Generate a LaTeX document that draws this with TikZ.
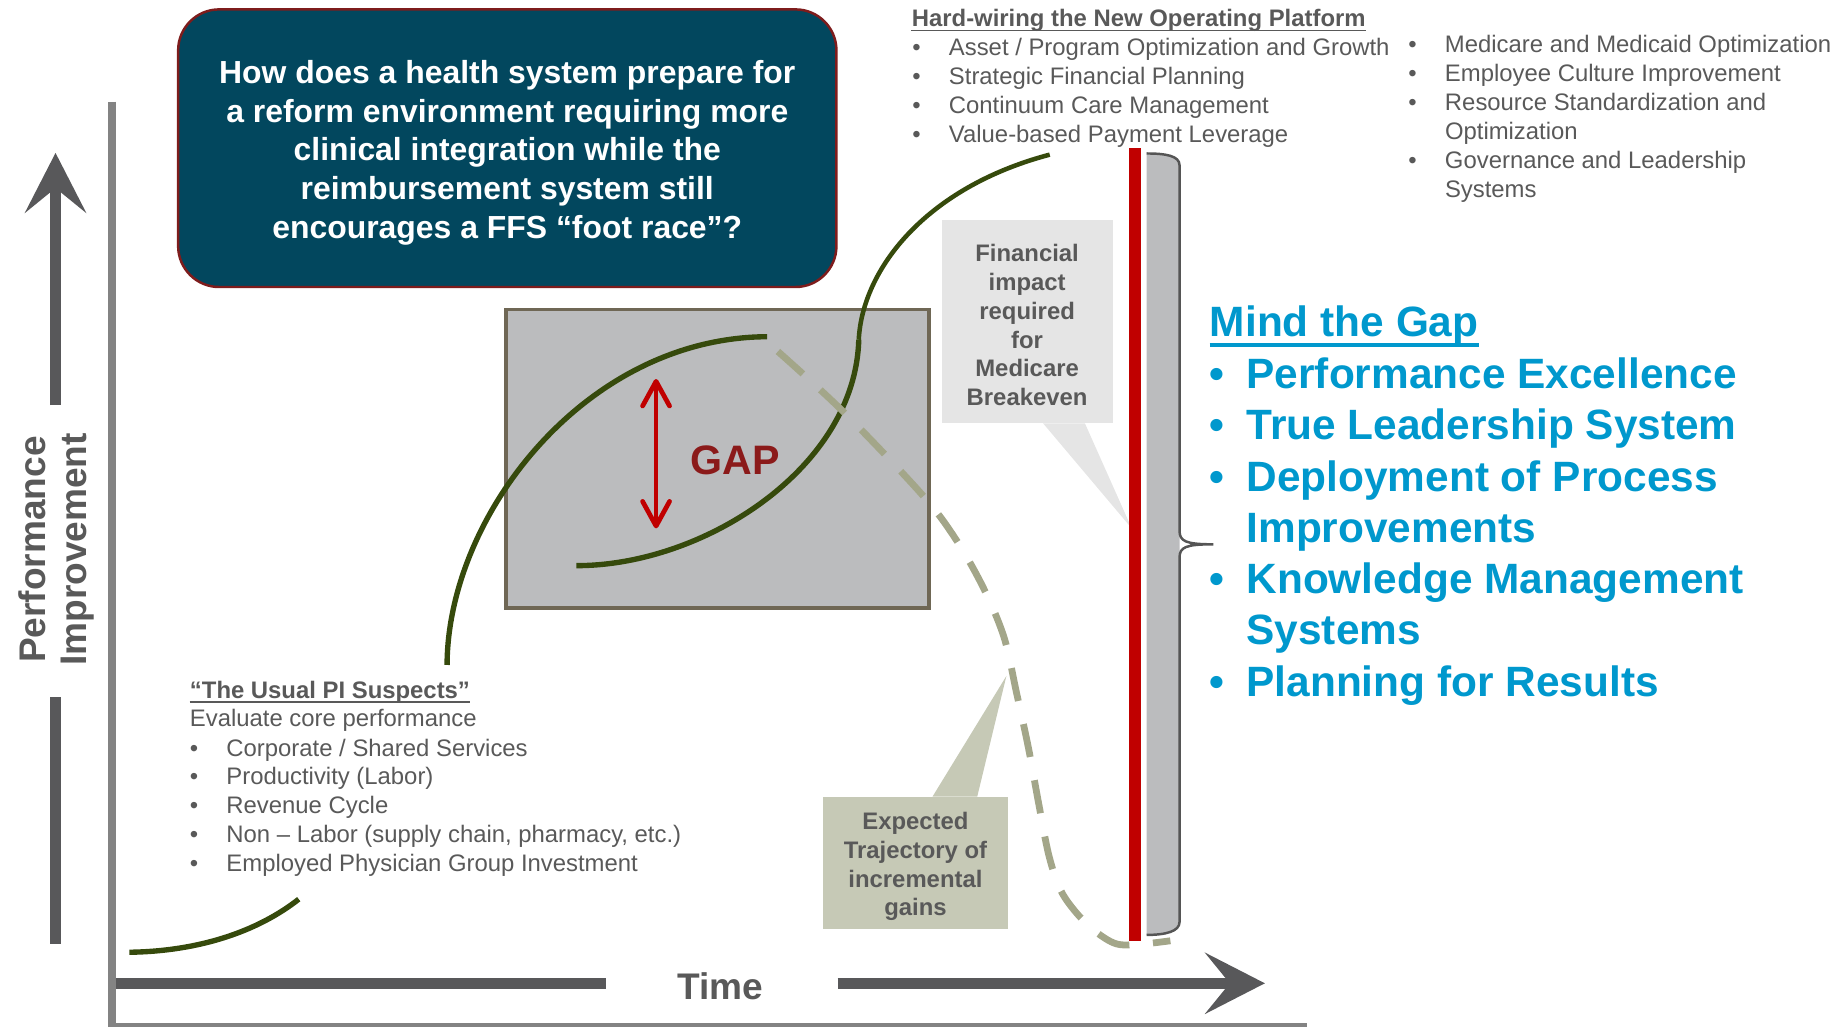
\documentclass[tikz,border=0pt]{standalone}
\usepackage{fontspec}
\setmainfont{Liberation Sans}
\usetikzlibrary{arrows.meta}

\definecolor{boxteal}{HTML}{02475E}
\definecolor{boxred}{HTML}{7E1C1C}
\definecolor{txtgray}{HTML}{595959}
\definecolor{axisgray}{HTML}{838383}
\definecolor{arrgray}{HTML}{58585A}
\definecolor{gapfill}{HTML}{BBBCBE}
\definecolor{gapedge}{HTML}{6F6755}
\definecolor{curvegreen}{HTML}{364A0C}
\definecolor{dashgreen}{HTML}{A3A689}
\definecolor{barred}{HTML}{C00000}
\definecolor{gapred}{HTML}{8B1A1A}
\definecolor{mindblue}{HTML}{0098CD}
\definecolor{calloutA}{HTML}{E5E5E5}
\definecolor{calloutB}{HTML}{C6C9B6}
\definecolor{bracegray}{HTML}{555555}

\newcommand{\bul}{\makebox[0.625cm][l]{\textbullet}}
\newcommand{\nobul}{\makebox[0.625cm][l]{}}

\tikzset{
  axisline/.style={draw=axisgray, line width=3.7pt},
  bigarrow/.style={draw=arrgray, line width=5.4pt},
  bigtip/.style={>={Stealth[length=1.02cm,width=1.04cm,inset=0.42cm]}, ->},
  gcurve/.style={draw=curvegreen, line width=2.6pt},
  dcurve/.style={draw=dashgreen, line width=3.3pt, dash pattern=on 16.3pt off 11.5pt},
  gaparrow/.style={draw=barred, line width=2.3pt, >={Straight Barb[length=0.42cm,width=0.46cm,round]}, <->},
  qbox/.style={minimum width=11.24cm, minimum height=4.74cm, rounded corners=0.7cm, fill=boxteal, draw=boxred, line width=1.2pt, inner sep=0pt},
  qtext/.style={align=center, text=white, font=\bfseries\fontsize{15.5}{18.8}\selectfont, inner sep=0pt},
  gapbox/.style={minimum width=7.22cm, minimum height=5.1cm, fill=gapfill, draw=gapedge, line width=1.7pt, inner sep=0pt},
  pitext/.style={inner sep=0pt, anchor=base west, text=txtgray, font=\fontsize{11.6}{14}\selectfont},
  pihead/.style={pitext, font=\bfseries\fontsize{11.6}{14}\selectfont},
  mindtext/.style={inner sep=0pt, anchor=base west, text=mindblue, font=\bfseries\fontsize{20.6}{25}\selectfont},
  ulgray/.style={draw=txtgray, line width=0.8pt},
  callout/.style={inner sep=0pt, align=center, text=txtgray, font=\bfseries\fontsize{11.6}{14}\selectfont},
  bracedraw/.style={draw=bracegray, line width=1.2pt},
}

\begin{document}
\begin{tikzpicture}[x=0.02cm, y=-0.02cm]
\useasboundingbox (0,0) rectangle (1568,876);

% axes
\coordinate (ytop) at (95.6,86.8);
\coordinate (origin) at (95.6,876.2);
\coordinate (xend) at (1116,876.2);
\draw[axisline] (ytop) -- (origin) -- (xend);

% performance arrow
\coordinate (pbot) at (47.4,805.7);
\coordinate (plow) at (47.4,595.2);
\coordinate (phigh) at (47.4,345.7);
\coordinate (ptop) at (47.4,130.5);
\draw[bigarrow] (pbot) -- (plow);
\draw[bigarrow, bigtip] (phigh) -- (ptop);
\node[rotate=90, align=center, text=txtgray, font=\bfseries\fontsize{18}{20}\selectfont] (perf) at (48,469) {Performance\\Improvement};

% time arrow
\coordinate (tstart) at (99,839.3);
\coordinate (tleft) at (517,839.3);
\coordinate (tright) at (715,839.3);
\coordinate (tend) at (1079.7,839.3);
\draw[bigarrow] (tstart) -- (tleft);
\draw[bigarrow, bigtip] (tright) -- (tend);
\node[text=txtgray, font=\bfseries\fontsize{18}{20}\selectfont] (time) at (614.9,842) {Time};

% question
\node[qbox] (qbox) at (433,126.5) {};
\node[qtext] (qtext) at (433,130.4) {How does a health system prepare for\\a reform environment requiring more\\clinical integration while the\\reimbursement system still\\encourages a FFS “foot race”?};

% gap box and curves
\node[gapbox] (gapbox) at (612.5,391.5) {};
\draw[gcurve] (110.4,812.8) .. controls (170,812) and (220,795) .. (255,767.5);
\draw[gcurve] (381.6,567.6) .. controls (382,440) and (500,288) .. (654.8,287.4);
\draw[gcurve] (492,482.8) .. controls (600,483) and (730,400) .. (733,290);
\draw[gcurve, line width=2.2pt] (733,290) .. controls (736,230) and (790,160) .. (896,132);
\draw[dcurve] plot[smooth, tension=0.55] coordinates {(664,300) (719.8,351.4) (786,421) (815,459) (839,501) (857,544) (867.7,591.5) (877.9,638.7) (886.6,686) (895.7,731.8) (907,763) (928,789) (951,805) (972,806) (999,803)};

\coordinate (gtop) at (560,323.5);
\coordinate (gbot) at (560,451);
\draw[gaparrow] (gtop) -- (gbot);
\node[text=gapred, font=\bfseries\fontsize{20}{24}\selectfont] (gap) at (627.4,392.6) {GAP};

% callouts
\node[fill=calloutA, minimum width=2.92cm, minimum height=3.464cm, inner sep=0pt] (finbox) at (876.7,274.4) {};
\coordinate (fintip) at (966,451);
\fill[calloutA] ([xshift=1.74cm]finbox.south west) -- (fintip) -- ([xshift=2.454cm]finbox.south west) -- cycle;
\node[callout] (fin) at (876.7,277.5) {Financial\\impact\\required\\for\\Medicare\\Breakeven};

\node[fill=calloutB, minimum width=3.144cm, minimum height=2.252cm, inner sep=0pt] (expbox) at (781.4,736.6) {};
\coordinate (exptip) at (859,577);
\fill[calloutB] ([xshift=1.87cm]expbox.north west) -- (exptip) -- ([xshift=2.634cm]expbox.north west) -- cycle;
\node[callout] (exp) at (781.4,739.6) {Expected\\Trajectory of\\incremental\\gains};

% red bar and brace
\fill[barred] (963.6,126.6) rectangle (973.9,803);
\fill[gapfill] (978.7,131) .. controls (995,131) and (1006.8,133) .. (1006.8,141) -- (1006.8,787) .. controls (1006.8,795) and (995,798) .. (978.7,798) -- cycle;
\draw[bracedraw] (978.7,131) .. controls (995,131) and (1006.8,133) .. (1006.8,141) -- (1006.8,453)
  .. controls (1006.8,462) and (1012,464.6) .. (1035.6,464.6)
  .. controls (1012,464.6) and (1006.8,467) .. (1006.8,476) -- (1006.8,787)
  .. controls (1006.8,795) and (995,798) .. (978.7,798);

% hard-wiring list
\node[pihead] (hw) at (778,22.8) {Hard-wiring the New Operating Platform};
\draw[ulgray] ([yshift=-1.9pt]hw.base west) -- ([yshift=-1.9pt]hw.base east);
\foreach \txt [count=\i] in {Asset / Program Optimization and Growth, Strategic Financial Planning, Continuum Care Management, Value-based Payment Leverage}
  \node[pitext] (hw\i) at (778.4,22.8+24.8*\i) {\bul\txt};

\foreach \txt [count=\i] in {{\bul Medicare and Medicaid Optimization}, {\bul Employee Culture Improvement}, {\bul Resource Standardization and}, {\nobul Optimization}, {\bul Governance and Leadership}, {\nobul Systems}}
  \node[pitext] (mc\i) at (1201.8,20.2+24.8*\i) {\txt};

% usual suspects
\node[pihead] (ups) at (161.8,596) {“The Usual PI Suspects”};
\draw[ulgray] ([yshift=-1.9pt]ups.base west) -- ([yshift=-1.9pt]ups.base east);
\node[pitext] (eval) at (161.8,620.5) {Evaluate core performance};
\foreach \txt [count=\i] in {Corporate / Shared Services, Productivity (Labor), Revenue Cycle, {Non – Labor (supply chain, pharmacy, etc.)}, Employed Physician Group Investment}
  \node[pitext] (ups\i) at (161.7,620.7+24.6*\i) {\bul\txt};

% mind the gap
\node[mindtext] (mind) at (1032.4,287.4) {Mind the Gap};
\draw[draw=mindblue, line width=1.6pt] ([yshift=-4pt]mind.base west) -- ([yshift=-4pt]mind.base east);
\foreach \txt [count=\i] in {{\bul Performance Excellence}, {\bul True Leadership System}, {\bul Deployment of Process}, {\nobul Improvements}, {\bul Knowledge Management}, {\nobul Systems}, {\bul Planning for Results}}
  \node[mindtext] (mind\i) at (1032.4,287.7+43.8*\i) {\txt};
\end{tikzpicture}
\end{document}
